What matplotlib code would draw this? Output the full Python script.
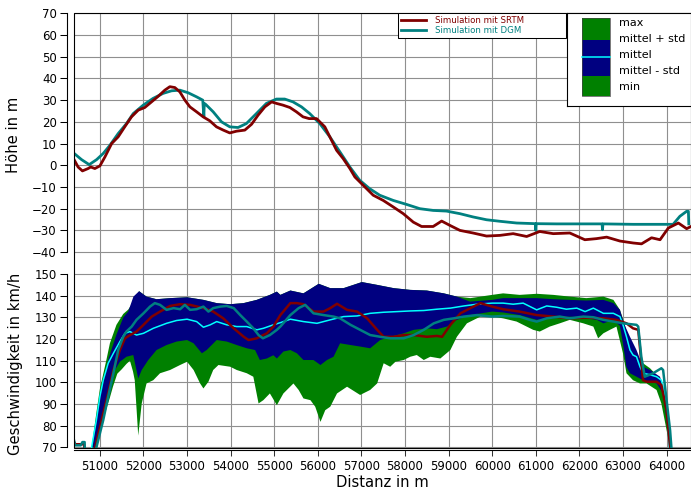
import matplotlib
matplotlib.use('Agg')
import matplotlib.pyplot as plt
import matplotlib.transforms as mtransforms
from matplotlib.patches import Rectangle

plt.rcParams['font.family'] = 'DejaVu Sans'

# Hoehenprofil (m)
h_srtm_x = [50395, 50500, 50600, 50730, 50790, 50885, 51000, 51115, 51270, 51420, 51570, 51725, 51880,
            52030, 52185, 52340, 52490, 52605, 52720, 52835, 52950, 53065, 53220, 53370, 53520, 53675,
            53830, 53980, 54135, 54325, 54480, 54630, 54785, 54940, 55050, 55200, 55360, 55510, 55660,
            55800, 55970, 56160, 56275, 56430, 56580, 56735, 56850, 57040, 57270, 57500, 57730, 57960,
            58190, 58380, 58645, 58840, 59030, 59260, 59560, 59870, 60175, 60480, 60790, 61090, 61400,
            61780, 62125, 62390, 62625, 62930, 63235, 63425, 63655, 63850, 64040, 64270, 64460, 64560]
h_srtm = [3.1, -0.8, -2.6, -1.5, -0.8, -1.5, -0.3, 3.8, 10, 13.1, 17.7, 22.3, 25.4,
          26.6, 29.2, 31.8, 34.6, 36.2, 35.8, 33.8, 30, 26.9, 24.6, 22.3, 20.5, 17.7,
          16.2, 14.9, 15.7, 16.2, 18.9, 23.1, 26.9, 29.2, 28.5, 27.7, 26.6, 24.6, 22.3,
          21.5, 21.5, 17.7, 13.1, 6.9, 3.1, -1.5, -5.4, -9.2, -13.8, -16.2, -19.2, -22.3,
          -26.2, -28.2, -28.2, -25.7, -27.7, -30, -31.2, -32.6, -32.3, -31.5, -32.8, -30.5, -31.5,
          -31.2, -34.3, -33.8, -33.1, -34.9, -35.8, -36.2, -33.4, -34.3, -28.9, -26.6, -29.2, -28.2]

h_dgm_x = [50395, 50580, 50755, 50925, 51075, 51230, 51420, 51610, 51765, 51995, 52220, 52450, 52645,
           52835, 53025, 53220, 53360, 53385, 53395, 53430, 53600, 53790, 53980, 54170, 54360, 54590,
           54820, 55050, 55240, 55430, 55625, 55815, 56045, 56275, 56505, 56735, 56960, 57190, 57420,
           57730, 58030, 58340, 58645, 58950, 59260, 59560, 59870, 60175, 60560, 60990, 61000, 61010,
           61475, 62000, 62520, 62530, 62540, 63235, 64150, 64305, 64460, 64500, 64510]
h_dgm = [5.7, 2.6, 0.3, 2.6, 5.4, 9.2, 14.6, 19.2, 23.8, 27.7, 30.8, 33.1, 34.3,
         34.6, 33.4, 31.5, 30, 22.3, 28.5, 28, 24.6, 20, 17.7, 17.4, 19.2, 23.8,
         28.5, 30.5, 30.5, 29.2, 26.9, 23.8, 19.2, 13.1, 6.2, -0.8, -6.9, -10.8, -13.8,
         -16.2, -18, -20, -20.8, -21.1, -22.3, -23.8, -25.1, -25.8, -26.6, -26.9, -30, -26.9,
         -27, -27, -27, -29.7, -27, -27.2, -27.2, -23.5, -21.2, -21.2, -27]

# Geschwindigkeit (km/h)
v_max_x = [50810, 50920, 51000, 51150, 51230, 51380, 51536, 51650, 51800, 51900, 52070, 52300, 52610,
           53000, 53375, 53680, 53990, 54295, 54600, 54900, 55060, 55140, 55370, 55670, 56020, 56285,
           56590, 57010, 57360, 57740, 58120, 58500, 58890, 59190, 59500, 60000, 60250, 60630, 61020,
           61400, 61780, 62160, 62550, 62780, 62930, 63020, 63120, 63300, 63460, 63620, 63880, 63960,
           64040, 64080, 64150]
v_max = [70, 86, 97, 110.4, 118, 126.5, 131.5, 133.5, 138, 142, 139.5, 138.3, 138.8,
         139.2, 138, 136.5, 136, 136.5, 138, 140.3, 141.8, 140.3, 142.3, 141, 145.4, 143.4,
         143.4, 146.2, 144.9, 143.4, 142.6, 142.3, 141, 139.5, 138.8, 140.3, 141, 140.3, 140.8,
         140.3, 139.5, 138.8, 139.5, 138, 133.4, 128, 121, 113, 108.8, 106.5, 101, 93.4,
         81, 70, 50]

v_up_x = [50830, 50920, 51000, 51100, 51200, 51380, 51540, 51650, 51770, 51900, 52070, 52300, 52610,
          53000, 53375, 53680, 53990, 54295, 54600, 54900, 55060, 55140, 55370, 55670, 56020, 56285,
          56590, 57010, 57360, 57740, 58120, 58500, 58890, 59190, 59490, 60000, 60250, 60630, 61020,
          61400, 61780, 62160, 62550, 62780, 62930, 63020, 63160, 63310, 63460, 63620, 63850, 63960,
          64040, 64080, 64150]
v_up = [70, 84, 94, 103, 111, 122, 130, 132.6, 139.5, 142, 139.5, 138.3, 138.8,
        139.2, 138, 136.5, 136, 136.5, 138, 140.3, 141.8, 140.3, 142.3, 141, 145.4, 143.4,
        143.4, 146.2, 144.9, 143.4, 142.6, 142.3, 141, 139.5, 137.2, 138, 138.8, 138.8, 138.8,
        138.3, 138, 137.7, 138, 136.5, 133.4, 127.2, 121, 114.9, 107.2, 105.7, 102.6, 93.4,
        79.5, 70, 50]

v_mean_x = [50810, 50920, 51000, 51077, 51190, 51310, 51460, 51575, 51690, 51840, 52000, 52225, 52530,
            52760, 53000, 53220, 53375, 53530, 53680, 53910, 54140, 54370, 54600, 54750, 54980, 55140,
            55370, 55670, 55980, 56285, 56590, 56900, 57200, 57510, 57820, 58120, 58430, 58730, 59040,
            59350, 59650, 60000, 60250, 60480, 60710, 61020, 61250, 61480, 61700, 61940, 62130, 62320,
            62550, 62780, 62930, 63000, 63080, 63160, 63230, 63310, 63390, 63460, 63620, 63770, 63880,
            63960, 64020, 64060, 64100]
v_mean = [70, 82.6, 93.4, 101, 108.8, 113.4, 118.8, 122.6, 123.4, 121.8, 122.6, 124.9, 127.2,
          128.5, 129.1, 128, 125.4, 126.5, 128, 126.5, 125.7, 125.7, 124.2, 124.9, 126.5, 127.5,
          129.1, 128, 127.2, 128.8, 130.3, 130.6, 131.8, 132.3, 132.6, 132.9, 133.1, 133.7, 134.2,
          135.2, 136, 136.5, 136.5, 136, 136.5, 133.4, 135.2, 134.6, 133.7, 134.2, 132.6, 134.2,
          131.8, 131.8, 130.3, 126.5, 121, 114.9, 112.6, 111.8, 107.2, 104.2, 103.5, 102.6, 101,
          94.9, 84.1, 70, 50]

v_low_x = [50900, 51077, 51230, 51345, 51460, 51610, 51766, 51880, 51960, 52110, 52300, 52530, 52760,
           53000, 53150, 53340, 53450, 53680, 53910, 54140, 54370, 54560, 54670, 54830, 54980, 55060,
           55210, 55370, 55520, 55670, 55900, 56060, 56210, 56360, 56510, 56750, 56970, 57200, 57430,
           57660, 57970, 58200, 58500, 58730, 58960, 59190, 59490, 60000, 60250, 60630, 61020, 61400,
           61780, 62160, 62400, 62550, 62780, 62930, 63000, 63080, 63160, 63310, 63460, 63770, 63920,
           64000, 64060, 64100]
v_low = [70, 84, 94.9, 105.7, 109.5, 111.8, 112.6, 101.8, 105.7, 110.3, 114.9, 117.2, 118.8,
         119.5, 118, 113.4, 114.9, 119.5, 118.8, 117.2, 115.7, 114.9, 110.3, 111, 112.5, 111,
         114.2, 114.9, 113.4, 110.3, 110.3, 108, 110.3, 111.8, 118, 117.2, 116.5, 115.7, 119.5,
         121, 122.6, 124.2, 124.9, 124.5, 125.7, 128.8, 131, 132.6, 132.2, 131, 128.8, 129.5,
         130.3, 129.5, 128.8, 127.2, 128.8, 126, 117.8, 107, 104.2, 102.6, 101, 99.5, 94.9,
         82.5, 70, 50]

v_min_x = [50900, 51077, 51230, 51300, 51400, 51500, 51610, 51690, 51760, 51800, 51880, 51960, 52070,
           52225, 52380, 52610, 52840, 53000, 53150, 53300, 53375, 53490, 53600, 53720, 53990, 54140,
           54370, 54520, 54640, 54750, 54900, 55060, 55210, 55440, 55560, 55670, 55830, 55940, 56060,
           56170, 56285, 56440, 56670, 56970, 57200, 57360, 57510, 57660, 57780, 57970, 58120, 58270,
           58430, 58580, 58810, 59040, 59190, 59420, 59730, 60000, 60250, 60560, 60790, 60940, 61090,
           61320, 61550, 61780, 62090, 62320, 62430, 62550, 62700, 62850, 63000, 63080, 63230, 63390,
           63540, 63770, 63880, 64000, 64080, 64150]
v_min = [70, 83, 93, 98, 104, 106, 108.5, 110, 105, 101, 75.5, 90.3, 99.5,
         101, 104.2, 105.7, 108, 109.5, 105.7, 99.5, 97.2, 100.3, 105.7, 108, 107.2, 105.7,
         104.2, 102.6, 90.3, 91.8, 94.9, 89.5, 94.9, 99.5, 96.5, 92.6, 91.8, 88.8, 81.8,
         87.2, 88.8, 94.9, 98, 94.2, 96.5, 99.5, 108.8, 107.2, 109.5, 110.3, 111.8, 112.6,
         110.3, 111.8, 111, 114.9, 121, 127.2, 130.3, 130.3, 129.5, 128, 125.7, 124.2, 123.4,
         125.7, 127.2, 128.8, 127.2, 125.7, 120.3, 122.6, 124.2, 125.7, 113.4, 104.2, 101, 99.5,
         99.5, 96.5, 90.3, 78, 70, 50]

v_srtm_x = [50395, 50440, 50640, 50660, 50850, 50890, 51077, 51190, 51310, 51460, 51575, 51690, 51840,
            52000, 52190, 52380, 52610, 52840, 53070, 53375, 53600, 53830, 54070, 54300, 54410, 54600,
            54830, 54980, 55140, 55370, 55520, 55670, 55900, 56130, 56285, 56440, 56670, 56900, 57130,
            57360, 57510, 57740, 57970, 58200, 58500, 58730, 58850, 59040, 59270, 59500, 59730, 60000,
            60250, 60630, 61020, 61400, 61780, 62160, 62550, 62850, 63080, 63230, 63350, 63460, 63540,
            63770, 63880, 64000, 64080, 64120]
v_srtm = [73, 71.5, 71.5, 50, 50, 70, 85.7, 94.9, 105.7, 114.9, 120.3, 121.8, 123.4,
          126.5, 130.3, 132.6, 135.2, 136, 135.7, 134.2, 132.6, 129.5, 124.9, 121, 119.5, 120.3,
          122.6, 125.7, 131, 136.5, 136.5, 136, 132.6, 132.6, 134.2, 136.2, 133.4, 132.6, 129.5,
          124.2, 121, 121, 121.8, 121.8, 121, 121.4, 121, 126.5, 131.8, 134.2, 136.5, 134.9,
          133.7, 132.6, 131, 130.3, 129.5, 129.8, 129.5, 128.8, 127.2, 124.9, 124.2, 101, 100.3,
          100.3, 98.8, 87.2, 70, 50]

v_dgm_x = [50395, 50430, 50560, 50600, 50650, 50670, 50900, 50920, 51077, 51190, 51310, 51420, 51536,
           51610, 51730, 51840, 52000, 52150, 52260, 52380, 52530, 52690, 52840, 52950, 53070, 53220,
           53375, 53490, 53600, 53760, 53910, 54070, 54220, 54370, 54520, 54640, 54740, 54900, 55060,
           55140, 55370, 55560, 55710, 55900, 56130, 56360, 56510, 56750, 56970, 57200, 57430, 57660,
           57970, 58200, 58430, 58660, 58890, 59120, 59350, 59650, 60000, 60250, 60630, 60860, 61020,
           61250, 61550, 61780, 62090, 62320, 62550, 62780, 63000, 63310, 63350, 63420, 63500, 63690,
           63880, 63920, 64000, 64080, 64110, 64140]
v_dgm = [74.5, 71, 71, 72.5, 72.5, 50, 50, 70, 82.6, 93.4, 104.2, 114.9, 121,
         123.4, 125.7, 128.8, 131.8, 134.9, 136.5, 135.7, 133.4, 134.2, 133.7, 135.7, 133.4, 133.7,
         134.9, 132.6, 134.2, 134.9, 135.2, 134.2, 131, 128, 124.9, 121.8, 120.3, 121.8, 124.2,
         125.7, 131, 134.2, 135.7, 131.8, 131, 130.3, 129.5, 126.5, 124.2, 121.8, 121, 120.3,
         120.3, 121.8, 124.2, 127.2, 128.8, 129.5, 130.3, 131, 130.3, 130.6, 130.3, 128.8, 128,
         129.5, 130.3, 129.5, 130.3, 130, 128.8, 128, 127.2, 126.5, 125.7, 111.8, 102.6, 104.2,
         106.5, 105.7, 91.8, 78, 70, 50]

x_ticks = list(range(51000, 64001, 1000))
h_ticks = list(range(-40, 71, 10))
v_ticks = list(range(70, 151, 10))
band_labels = ['max', 'mittel + std', 'mittel', 'mittel - std', 'min']

c_srtm = '#800000'
c_dgm = '#008080'
W, H = 691, 491
offset = -200   # speed panel sits below the height panel on one shared axes

fig = plt.figure(figsize=(W / 100, H / 100), dpi=100)
ax = fig.add_axes([73.5 / W, 1 - 447.5 / H, 617.5 / W, 434.2 / H])
ax.set_xlim(50395, 64560)
ax.set_ylim(-130, 70)
tr_v = mtransforms.Affine2D().translate(0, offset) + ax.transData

ax.fill(v_max_x + v_min_x[::-1], v_max + v_min[::-1], color='#008000', lw=0, transform=tr_v, zorder=2)
ax.fill(v_up_x + v_low_x[::-1], v_up + v_low[::-1], color='#000080', lw=0, transform=tr_v, zorder=3)
ax.plot(v_mean_x, v_mean, color='#00ffff', lw=1.1, transform=tr_v, zorder=4)
ax.plot(v_srtm_x, v_srtm, color=c_srtm, lw=1.8, transform=tr_v, zorder=5)
ax.plot(v_dgm_x, v_dgm, color=c_dgm, lw=1.8, transform=tr_v, zorder=6)

l_dgm, = ax.plot(h_dgm_x, h_dgm, color=c_dgm, lw=2, label='Simulation mit DGM', zorder=5)
l_srtm, = ax.plot(h_srtm_x, h_srtm, color=c_srtm, lw=2, label='Simulation mit SRTM', zorder=6)

ax.set_xticks(x_ticks, labels=[str(t) for t in x_ticks])
ax.set_yticks(list(range(-130, 71, 10)))
ax.grid(True, color='#8f8f8f', lw=0.8)
ax.set_axisbelow(True)
ax.tick_params(axis='y', left=False, labelleft=False)
ax.tick_params(axis='x', direction='out', length=4.5, width=0.75, labelsize=8.5, pad=3, color='#333333')
for s in ['top', 'right', 'left']:
    ax.spines[s].set_visible(False)
ax.spines['bottom'].set_position(('outward', 1.5))
ax.spines['bottom'].set_linewidth(0.8)
ax.add_patch(Rectangle((0, 0), 1, 1, transform=ax.transAxes, fill=False, ec='black', lw=0.8,
                       clip_on=False, zorder=7))

# two left axes: Hoehe oben, Geschwindigkeit unten
loc = -7 / 617.5
sec_h = ax.secondary_yaxis(loc)
sec_h.set_ticks(h_ticks)
sec_v = ax.secondary_yaxis(loc, functions=(lambda y: y - offset, lambda v: v + offset))
sec_v.set_ticks(v_ticks)
for sec in (sec_h, sec_v):
    sec.tick_params(length=5, width=0.75, labelsize=8.5, pad=2)
    sec.spines['left'].set_visible(False)

# spine pieces drawn by hand, split between the two ranges
tr_spine = mtransforms.offset_copy(ax.get_yaxis_transform(), fig=fig, x=-7, y=0, units='dots')
ax.plot([0, 0], [h_ticks[0], h_ticks[-1]], color='black', lw=0.8, transform=tr_spine, clip_on=False)
ax.plot([0, 0], [v_ticks[0] + offset, v_ticks[-1] + offset], color='black', lw=0.8,
        transform=tr_spine, clip_on=False)

fig.text(14 / W, 1 - 135 / H, 'Höhe in m', rotation=90, ha='center', va='center', fontsize=10.6)
fig.text(16 / W, 1 - 364 / H, 'Geschwindigkeit in km/h', rotation=90, ha='center', va='center',
         fontsize=10.6)
ax.set_xlabel('Distanz in m', fontsize=10.6)
ax.xaxis.set_label_coords(0.5, (447.5 - 482.5) / 434.2)
ax.xaxis.label.set_va('center')

leg = ax.legend(handles=[l_srtm, l_dgm], loc='upper left',
                bbox_to_anchor=((398 - 73.5) / 617.5, 1 - 26 / 434.2, 168 / 617.5, 26 / 434.2),
                mode='expand', borderaxespad=0, fontsize=6.2, fancybox=False, edgecolor='black',
                framealpha=1, borderpad=0.3, labelspacing=0.15, handlelength=2.9, handletextpad=1.1,
                labelcolor='linecolor')
leg.get_frame().set_linewidth(0.75)
leg.set_zorder(10)

# legend for the speed bands
lax = fig.add_axes([566.7 / W, 1 - 106 / H, (W - 566.7) / W, (106 - 13.3) / H])
lax.set_xlim(566.7, 691)
lax.set_ylim(106, 13.3)
lax.set_xticks([])
lax.set_yticks([])
for s in lax.spines.values():
    s.set_linewidth(0.8)
lax.add_patch(Rectangle((582, 18), 28, 22, fc='#008000', ec='none'))
lax.add_patch(Rectangle((582, 40), 28, 36, fc='#000080', ec='none'))
lax.add_patch(Rectangle((582, 76), 28, 20, fc='#008000', ec='none'))
lax.add_patch(Rectangle((582, 18), 28, 78, fill=False, ec='#444444', lw=0.5))
lax.plot([582, 610], [57, 57], color='#00ffff', lw=1.1)
for lab, yy in zip(band_labels, [23.3, 39.3, 55.3, 70.7, 86.7]):
    lax.text(619, yy, lab, fontsize=8, va='center', ha='left')

fig.savefig('out.png', dpi=100)
